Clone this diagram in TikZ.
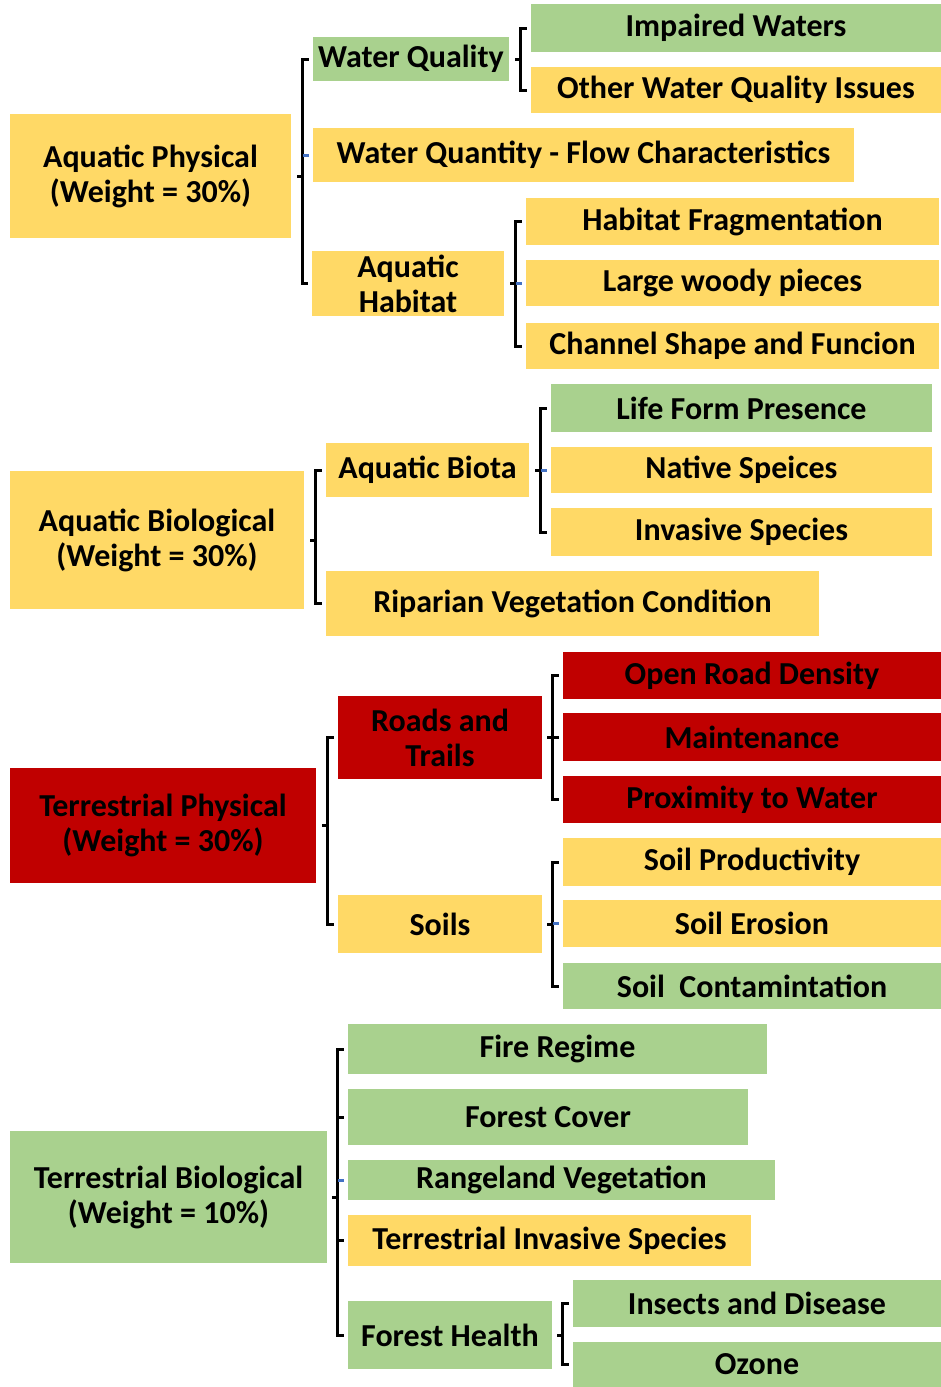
\documentclass[tikz,border=0pt]{standalone}
\usepackage{fontspec}
\setmainfont{Carlito}
\usetikzlibrary{calc}
\definecolor{gelbton}{HTML}{FFD966}
\definecolor{gruenton}{HTML}{A9D18E}
\definecolor{rotton}{HTML}{C00000}
\definecolor{blauton}{HTML}{4472C4}
\begin{document}
\begin{tikzpicture}[
    x=1pt, y=-1pt,
    font=\fontsize{32}{35}\selectfont\bfseries,
    kasten/.style={inner sep=0pt, align=center},
    gelb/.style={kasten, fill=gelbton},
    gruen/.style={kasten, fill=gruenton},
    rot/.style={kasten, fill=rotton},
    klammer/.style={line width=3pt, line join=miter},
    stummel/.style={line width=3pt, blauton}
  ]
  \useasboundingbox (0,0) rectangle (941,1387);
  \node[gelb, minimum width=281pt, minimum height=124pt] (ap) at (150.5,176) {Aquatic Physical\\(Weight = 30\%)};
  \node[gruen, minimum width=196pt, minimum height=44pt] (wq) at (411,59) {Water Quality};
  \node[gruen, minimum width=410pt, minimum height=48pt] (iw) at (736,28) {Impaired Waters};
  \node[gelb, minimum width=410pt, minimum height=46pt] (owq) at (736,90) {Other Water Quality Issues};
  \node[gelb, minimum width=541pt, minimum height=54pt] (wqf) at (583.5,155) {Water Quantity - Flow Characteristics};
  \node[gelb, minimum width=192pt, minimum height=65pt] (ah) at (408,283.5) {Aquatic\\Habitat};
  \node[gelb, minimum width=413pt, minimum height=47pt] (hf) at (732.5,221.5) {Habitat Fragmentation};
  \node[gelb, minimum width=413pt, minimum height=46pt] (lwp) at (732.5,283) {Large woody pieces};
  \node[gelb, minimum width=413pt, minimum height=46pt] (csf) at (732.5,346) {Channel Shape and Funcion};

  \node[gelb, minimum width=294pt, minimum height=138pt] (ab) at (157,540) {Aquatic Biological\\(Weight = 30\%)};
  \node[gelb, minimum width=203pt, minimum height=54pt] (abio) at (427.5,470) {Aquatic Biota};
  \node[gruen, minimum width=381pt, minimum height=48pt] (lfp) at (741.5,408) {Life Form Presence};
  \node[gelb, minimum width=381pt, minimum height=46pt] (ns) at (741.5,470) {Native Speices};
  \node[gelb, minimum width=381pt, minimum height=48pt] (is) at (741.5,532) {Invasive Species};
  \node[gelb, minimum width=493pt, minimum height=65pt] (rvc) at (572.5,603.5) {Riparian Vegetation Condition};

  \node[rot, minimum width=306pt, minimum height=115pt] (tp) at (163,825.5) {Terrestrial Physical\\(Weight = 30\%)};
  \node[rot, minimum width=204pt, minimum height=83pt] (rt) at (440,737.5) {Roads and\\Trails};
  \node[rot, minimum width=378pt, minimum height=47pt] (ord) at (752,675.5) {Open Road Density};
  \node[rot, minimum width=378pt, minimum height=48pt] (mt) at (752,737) {Maintenance};
  \node[rot, minimum width=378pt, minimum height=47pt] (ptw) at (752,799.5) {Proximity to Water};
  \node[gelb, minimum width=204pt, minimum height=58pt] (soil) at (440,924) {Soils};
  \node[gelb, minimum width=378pt, minimum height=48pt] (sp) at (752,862) {Soil Productivity};
  \node[gelb, minimum width=378pt, minimum height=47pt] (se) at (752,923.5) {Soil Erosion};
  \node[gruen, minimum width=378pt, minimum height=46pt] (sc) at (752,986) {Soil~~Contamintation};

  \node[gruen, minimum width=317pt, minimum height=132pt] (tb) at (168.5,1197) {Terrestrial Biological\\(Weight = 10\%)};
  \node[gruen, minimum width=419pt, minimum height=50pt] (fr) at (557.5,1049) {Fire Regime};
  \node[gruen, minimum width=400pt, minimum height=56pt] (fc) at (548,1117) {Forest Cover};
  \node[gruen, minimum width=427pt, minimum height=40pt] (rv) at (561.5,1180) {Rangeland Vegetation};
  \node[gelb, minimum width=403pt, minimum height=51pt] (tis) at (549.5,1240.5) {Terrestrial Invasive Species};
  \node[gruen, minimum width=204pt, minimum height=68pt] (fh) at (450,1335) {Forest Health};
  \node[gruen, minimum width=368pt, minimum height=47pt] (iad) at (757,1303.5) {Insects and Disease};
  \node[gruen, minimum width=368pt, minimum height=45pt] (oz) at (757,1364.5) {Ozone};

  \foreach \p/\a/\b in {ap/wq/ah, wq/iw/owq, ah/hf/csf, ab/abio/rvc, abio/lfp/is,
      tp/rt/soil, rt/ord/ptw, soil/sp/sc, tb/fr/fh, fh/iad/oz} {
    \draw[klammer] ($(\a.west)+(-4,0)$) -- ++(-6,0) coordinate (k) -- (k |- \b.west) -- ($(\b.west)+(-4,0)$);
    \draw[klammer] (k |- \p.east) -- ++(-6,0);
  }
  \foreach \m in {wqf, lwp, ns, se, rv}
    \draw[stummel] ($(\m.west)+(-10,0)$) -- ++(6,0);
  \foreach \m in {mt, fc, tis}
    \draw[klammer] ($(\m.west)+(-10,0)$) -- ++(6,0);
\end{tikzpicture}
\end{document}
